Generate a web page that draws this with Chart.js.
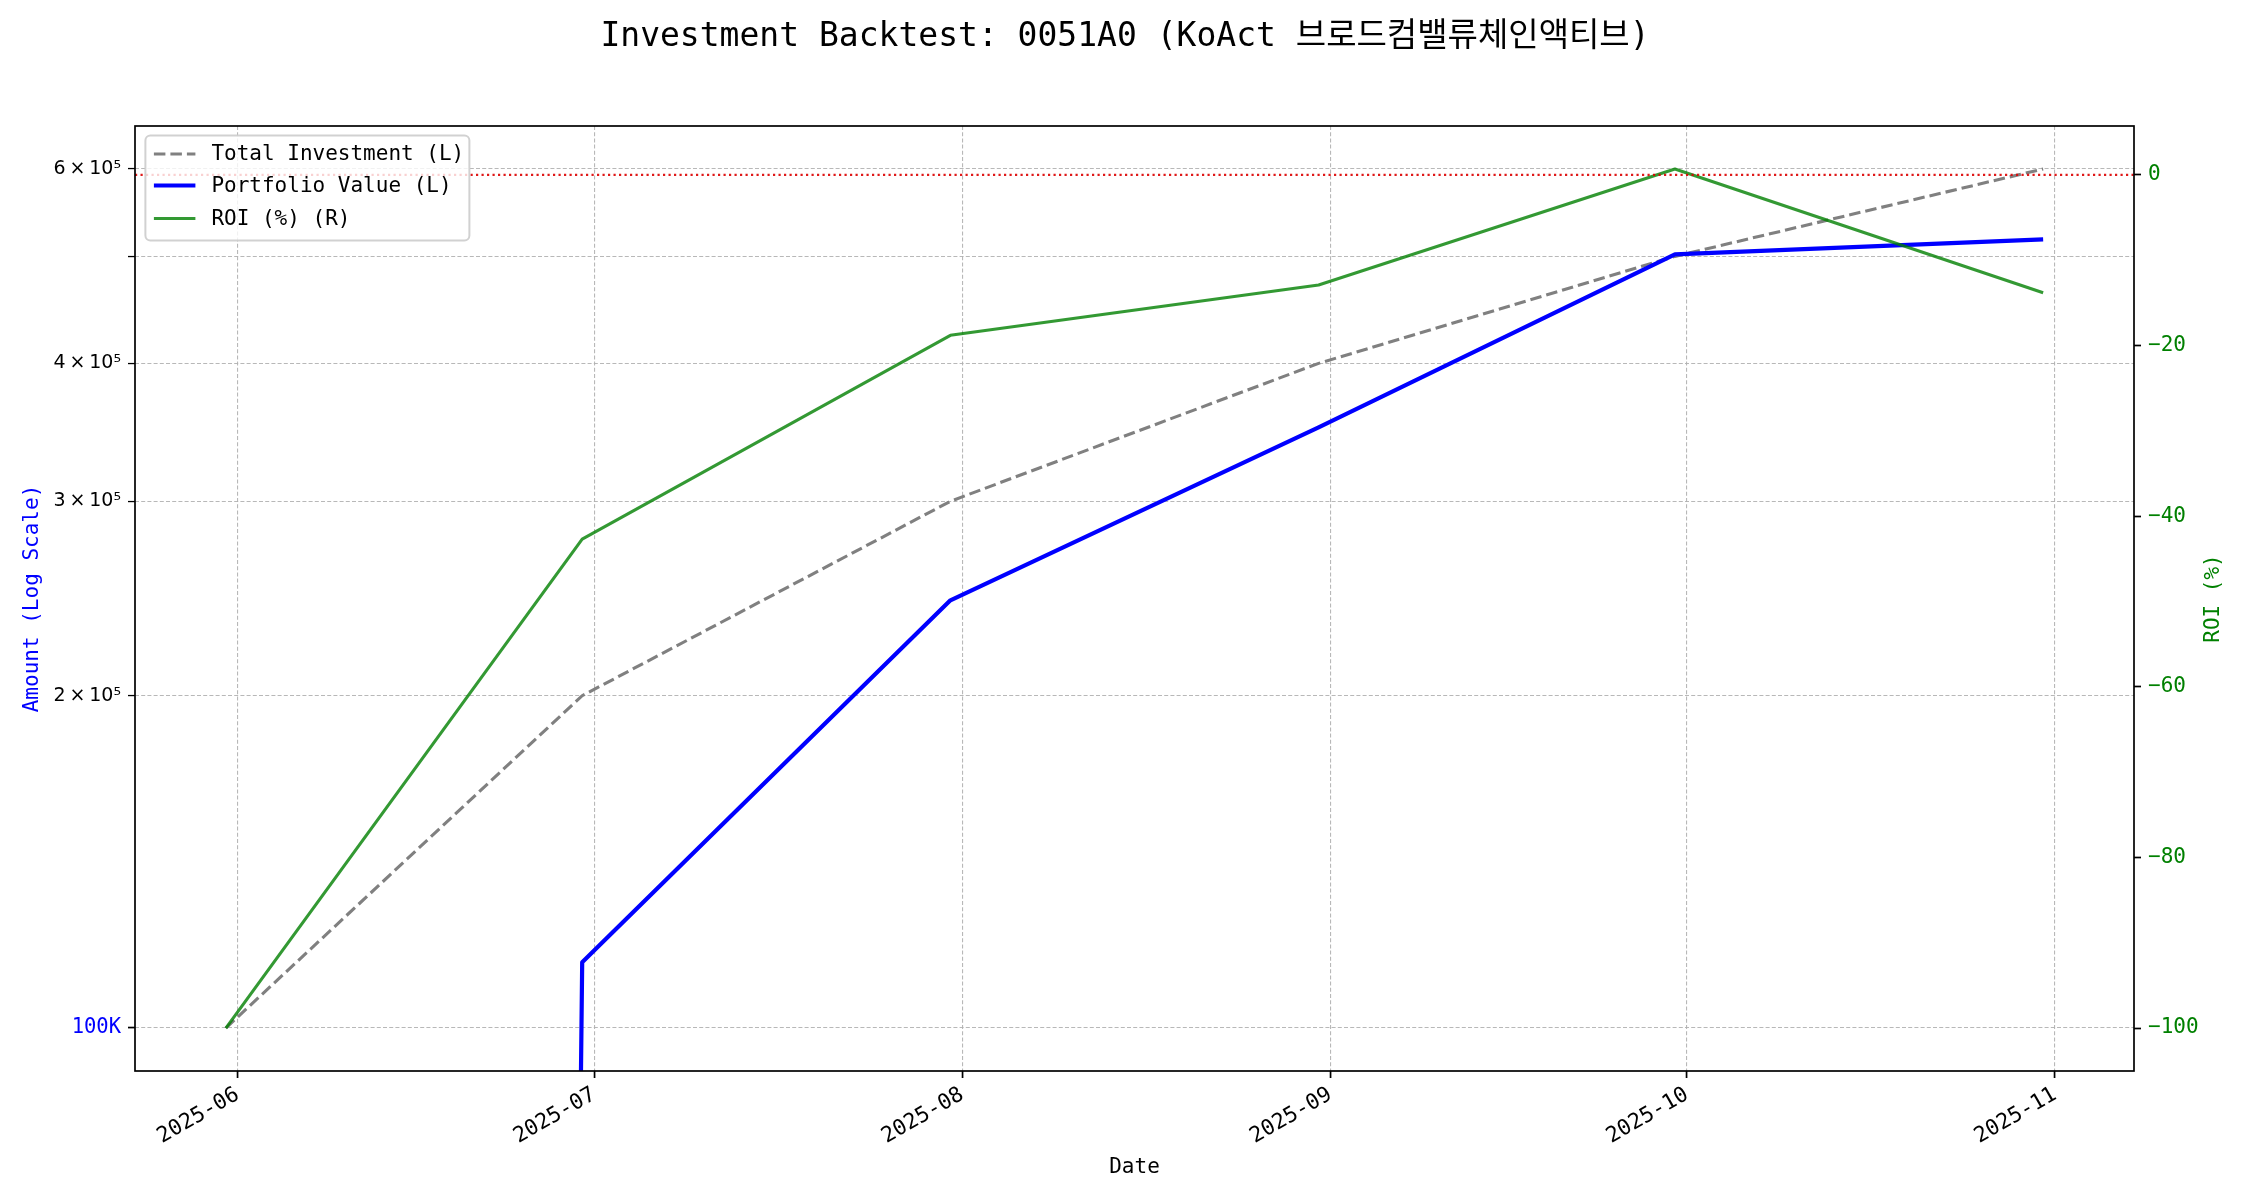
<!DOCTYPE html>
<html><head><meta charset="utf-8">
<script src="https://cdn.jsdelivr.net/npm/chart.js@4.4.1/dist/chart.umd.min.js"></script>
<style>html,body{margin:0;padding:0;background:#fff;}</style>
</head><body>
<canvas id="c" width="2250" height="1200"></canvas>
<script>
// ---------- data ----------
const titleText = 'Investment Backtest: 0051A0 (KoAct 브로드컴밸류체인액티브)';
const dates = ['2025-05-31','2025-06-30','2025-07-31','2025-08-31','2025-09-30','2025-10-31'];
const totalInvestment = [100000,200000,300000,400000,500000,600000];
const portfolioValue = [0,114700,244000,350000,502000,518000];
const roiPct = [-100,-42.7,-18.8,-12.9,0.7,-13.8];
const xTickDates = ['2025-06-01','2025-07-01','2025-08-01','2025-09-01','2025-10-01','2025-11-01'];
const xTickLabels = ['2025-06','2025-07','2025-08','2025-09','2025-10','2025-11'];
const leftTickValues = [100000,200000,300000,400000,500000,600000];
const leftTickLabels = ['100K','2\u2009×\u200910⁵','3\u2009×\u200910⁵','4\u2009×\u200910⁵','','6\u2009×\u200910⁵'];
const rightTickValues = [0,-20,-40,-60,-80,-100];
const rightTickLabels = ['0','−20','−40','−60','−80','−100'];
const legendLabels = ['Total Investment (L)','Portfolio Value (L)','ROI (%) (R)'];
const rightAxisTitle = 'ROI (%)';

// ---------- helpers ----------
const MONO = "'DejaVu Sans Mono', 'Noto Sans CJK KR', monospace";
const DAY = 86400000;
const toDay = s => Date.parse(s + 'T00:00:00Z') / DAY;
const xs = dates.map(toDay);
const xTicks = xTickDates.map(toDay);
const xMin = xs[0] - 0.05 * (xs[xs.length-1] - xs[0]);
const xMax = xs[xs.length-1] + 0.05 * (xs[xs.length-1] - xs[0]);
const lInv = totalInvestment.map(Math.log10);
const lLo = Math.min(...lInv), lHi = Math.max(...lInv);
const yMin = Math.pow(10, lLo - 0.05*(lHi-lLo));
const yMax = Math.pow(10, lHi + 0.05*(lHi-lLo));
const rLo = Math.min(...roiPct), rHi = Math.max(...roiPct);
const r2Min = rLo - 0.05*(rHi-rLo), r2Max = rHi + 0.05*(rHi-rLo);
// non-positive values on a log axis are clipped far below (like matplotlib)
const clipLog = v => v > 0 ? v : 1e-300;

const GREEN = 'rgba(0,128,0,0.8)';
const GRID = 'rgba(176,176,176,0.9)';

const decor = {
  id: 'decor',
  afterDatasetsDraw(chart) {
    const {ctx, chartArea: a, scales} = chart;
    ctx.save();
    // ROI = 0 reference line
    const y0 = scales.y2.getPixelForValue(0);
    ctx.beginPath();
    ctx.strokeStyle = 'rgba(220,0,0,0.9)';
    ctx.lineWidth = 2.2;
    ctx.setLineDash([2.2, 3.3]);
    ctx.moveTo(a.left, y0); ctx.lineTo(a.right, y0); ctx.stroke();
    // frame
    ctx.setLineDash([]);
    ctx.strokeStyle = '#000';
    ctx.lineWidth = 1.7;
    ctx.strokeRect(a.left, a.top, a.right - a.left, a.bottom - a.top);
    ctx.restore();
  },
  afterDraw(chart) {
    const {ctx, chartArea: a} = chart;
    ctx.save();
    // title
    ctx.fillStyle = '#000';
    ctx.font = '33px ' + MONO;
    ctx.textAlign = 'center';
    ctx.textBaseline = 'middle';
    ctx.fillText(titleText, chart.width / 2, 37);
    // right axis title (reads bottom-to-top)
    ctx.save();
    ctx.translate(2214, (a.top + a.bottom) / 2);
    ctx.rotate(-Math.PI / 2);
    ctx.fillStyle = '#008000';
    ctx.font = '21px ' + MONO;
    ctx.fillText(rightAxisTitle, 0, 0);
    ctx.restore();
    // legend
    const bx = a.left + 10.4, by = a.top + 9.5, bw = 324, bh = 105;
    ctx.beginPath();
    ctx.roundRect(bx, by, bw, bh, 5);
    ctx.fillStyle = 'rgba(255,255,255,0.8)';
    ctx.fill();
    ctx.strokeStyle = 'rgba(204,204,204,0.9)';
    ctx.lineWidth = 2;
    ctx.stroke();
    const styles = [
      {c: '#808080', w: 3.1, d: [11.5, 5]},
      {c: '#0000ff', w: 4.2, d: []},
      {c: GREEN, w: 3.1, d: []}
    ];
    const rowY = [by + 18.5, by + 50, by + 83];
    ctx.font = '21px ' + MONO;
    ctx.textAlign = 'left';
    ctx.textBaseline = 'middle';
    legendLabels.forEach((t, i) => {
      const s = styles[i];
      ctx.beginPath();
      ctx.strokeStyle = s.c; ctx.lineWidth = s.w; ctx.setLineDash(s.d);
      ctx.moveTo(bx + 8.5, rowY[i]); ctx.lineTo(bx + 50, rowY[i]); ctx.stroke();
      ctx.setLineDash([]);
      ctx.fillStyle = '#000';
      ctx.fillText(t, bx + 66, rowY[i] + 1);
    });
    ctx.restore();
  }
};

new Chart(document.getElementById('c'), {
  type: 'line',
  data: {
    datasets: [
      {
        label: legendLabels[2], yAxisID: 'y2', order: 0,
        data: xs.map((x, i) => ({x, y: roiPct[i]})),
        borderColor: GREEN, borderWidth: 3.1, pointRadius: 0, borderJoinStyle: 'round', fill: false, tension: 0
      },
      {
        label: legendLabels[1], yAxisID: 'y', order: 1,
        data: xs.map((x, i) => ({x, y: clipLog(portfolioValue[i])})),
        borderColor: '#0000ff', borderWidth: 4.2, pointRadius: 0, borderJoinStyle: 'round', fill: false, tension: 0
      },
      {
        label: legendLabels[0], yAxisID: 'y', order: 2,
        data: xs.map((x, i) => ({x, y: totalInvestment[i]})),
        borderColor: '#808080', borderWidth: 3.1, borderDash: [11.5, 5], pointRadius: 0, fill: false, tension: 0
      }
    ]
  },
  options: {
    responsive: false, animation: false, devicePixelRatio: 1,
    layout: {padding: {top: 126, left: 0, right: 0, bottom: 0}},
    plugins: {legend: {display: false}, title: {display: false}, tooltip: {enabled: false}},
    scales: {
      x: {
        type: 'linear', position: 'bottom', min: xMin, max: xMax, bounds: 'data',
        afterBuildTicks: s => { s.ticks = xTicks.map(v => ({value: v})); },
        afterFit: s => { s.height = 129; },
        ticks: {
          autoSkip: false, minRotation: 30, maxRotation: 30, padding: 4,
          color: '#000', font: {family: MONO, size: 21.5},
          callback: (v, i) => xTickLabels[i]
        },
        grid: {
          display: true, drawOnChartArea: true, color: GRID, lineWidth: 1.1,
          drawTicks: true, tickLength: 7, tickColor: '#000', tickWidth: 1.7, tickBorderDash: []
        },
        border: {display: false, dash: [4, 2.2]},
        title: {display: true, text: 'Date', color: '#000', font: {family: MONO, size: 21}, padding: {top: 0, bottom: 20}}
      },
      y: {
        type: 'logarithmic', position: 'left', min: yMin, max: yMax, bounds: 'data',
        afterBuildTicks: s => { s.ticks = leftTickValues.map(v => ({value: v})); },
        afterFit: s => { s.width = 135; },
        ticks: {
          autoSkip: false, padding: 7,
          color: c => c.index === 0 ? '#0000ff' : '#000',
          font: c => c.index === 0 ? {family: MONO, size: 20.5} : {family: "'DejaVu Sans', sans-serif", size: 19},
          callback: (v, i) => leftTickLabels[i]
        },
        grid: {
          display: true, drawOnChartArea: true, color: GRID, lineWidth: 1.1,
          drawTicks: true, tickLength: 7, tickColor: '#000',
          tickWidth: c => c.index === 0 ? 1.7 : 1.3, tickBorderDash: []
        },
        border: {display: false, dash: [4, 2.2]},
        title: {display: true, text: 'Amount (Log Scale)', color: '#0000ff', font: {family: MONO, size: 21}, padding: {top: 19.5, bottom: 0}}
      },
      y2: {
        type: 'linear', position: 'right', min: r2Min, max: r2Max, bounds: 'data',
        afterBuildTicks: s => { s.ticks = rightTickValues.map(v => ({value: v})); },
        afterFit: s => { s.width = 116; },
        ticks: {
          autoSkip: false, padding: 7, color: '#008000',
          font: {family: MONO, size: 21},
          callback: (v, i) => rightTickLabels[i]
        },
        grid: {
          display: true, drawOnChartArea: false, drawTicks: true, tickLength: 7,
          color: '#000', tickColor: '#000', tickWidth: 1.7, tickBorderDash: []
        },
        border: {display: false},
        title: {display: false}
      }
    }
  },
  plugins: [decor]
});
</script>
</body></html>
